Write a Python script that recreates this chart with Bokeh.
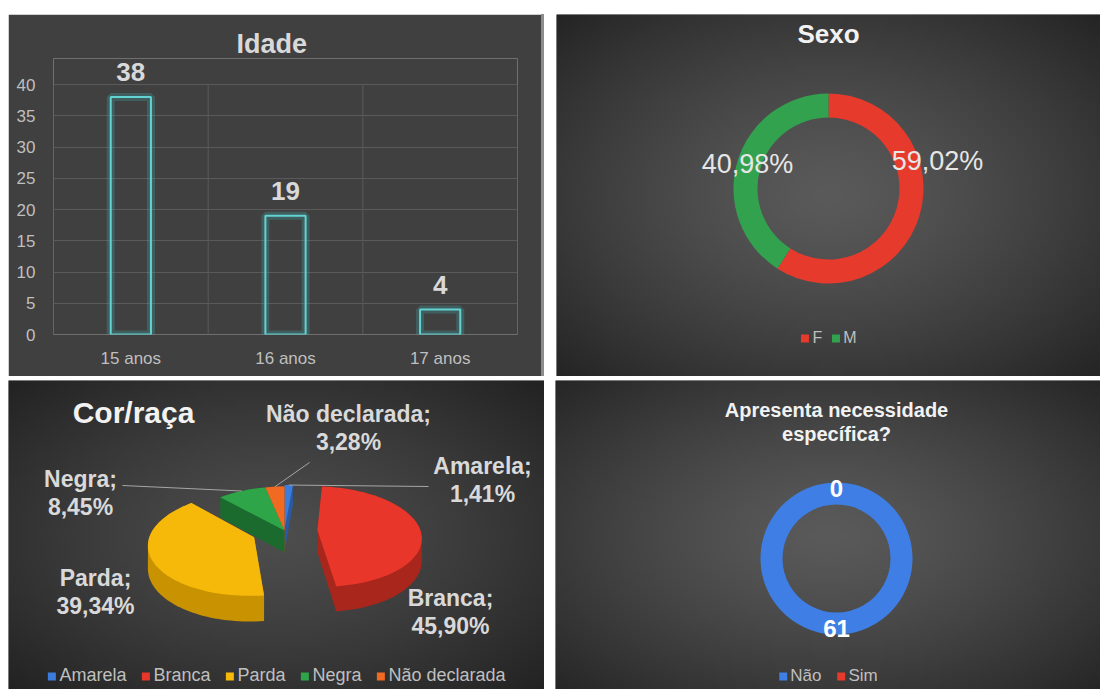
import numpy as np
from bokeh.plotting import figure
from bokeh.models import (Range1d, FactorRange, FixedTicker, Label, Legend,
                          LegendItem, ColumnDataSource, Spacer)
from bokeh.layouts import column, row
from bokeh.core.properties import value
from bokeh.embed import file_html
from bokeh.resources import INLINE

FONT = "Liberation Sans"

# ---------------- data ----------------
age_groups = ["15 anos", "16 anos", "17 anos"]
age_counts = [38, 19, 4]
age_ticks = [0, 5, 10, 15, 20, 25, 30, 35, 40]

sex_labels = ["F", "M"]
sex_pct = [59.02, 40.98]

race_labels = ["Amarela", "Branca", "Parda", "Negra", "Não declarada"]
race_pct = [1.41, 45.90, 39.34, 8.45, 3.28]

need_labels = ["Não", "Sim"]
need_counts = [61, 0]

# ---------------- styles ----------------
sex_colors = ["#e63a2c", "#33a24f"]
need_colors = ["#3f7fe5", "#e63a2c"]
race_top = ["#3b7ddd", "#e8372a", "#f6b90a", "#2fa549", "#f06a22"]
race_side = ["#2a5aa5", "#a8261c", "#c99200", "#1c6b2e", "#b04d16"]
race_explode = [0.04, 0.32, 0.32, 0.0, 0.0]
# label anchor offsets (px, relative to chart centre, y up)
sex_label_off = [(109, 28), (-81, 25)]
race_label_off = [(198, 65), (166, -67), (-189, -47), (-204, 52), (64, 117)]
race_leader_from = {0: (144, 44), 3: (-162, 45), 4: (25, 68)}


def fmt_pct(v):
    return f"{v:.2f}".replace(".", ",") + "%"


def radial_bg(w, h, inner, outer, power=1.3, step=4):
    ws, hs = max(2, w // step), max(2, h // step)
    yy, xx = np.mgrid[0:hs, 0:ws]
    dx = (xx + 0.5 - ws / 2) / (ws / 2)
    dy = (yy + 0.5 - hs / 2) / (hs / 2)
    t = np.clip(np.sqrt(dx ** 2 + dy ** 2) / np.sqrt(2), 0, 1) ** power
    inner = np.array(inner, float)
    outer = np.array(outer, float)
    rgb = inner + (outer - inner) * t[..., None]
    img = np.empty((hs, ws), dtype=np.uint32)
    v = img.view(dtype=np.uint8).reshape((hs, ws, 4))
    v[..., :3] = rgb.astype(np.uint8)
    v[..., 3] = 255
    return img


def blank_fig(w, h, cx, cy, bg):
    p = figure(width=w, height=h, x_range=Range1d(-cx, w - cx),
               y_range=Range1d(cy - h, cy), output_backend="svg",
               toolbar_location=None, min_border=0,
               x_axis_location=None, y_axis_location=None,
               outline_line_color=None, background_fill_color="#333333",
               border_fill_color="#333333")
    p.grid.visible = False
    p.image_rgba(image=[radial_bg(w, h, bg[0], bg[1])], x=-cx, y=cy - h,
                 dw=w, dh=h)
    return p


def add_label(p, x, y, text, size, color, bold=True):
    p.add_layout(Label(x=x, y=y, text=text, text_align="center",
                       text_baseline="middle", text_font=FONT,
                       text_font_size=size, text_color=color,
                       text_font_style="bold" if bold else "normal"))


def add_legend(p, items, margin, size="17px", spacing=10):
    lg = Legend(items=items, orientation="horizontal",
                location="bottom_center", margin=margin, padding=0,
                spacing=spacing, label_standoff=3, glyph_width=10,
                glyph_height=10, label_height=14, label_width=0,
                label_text_font=FONT, label_text_font_size=size,
                label_text_color="#bfbfbf", background_fill_alpha=0,
                border_line_alpha=0)
    p.add_layout(lg, "center")


def wedge_angles(vals):
    frac = np.array(vals, float) / np.sum(vals)
    before = np.concatenate([[0.0], np.cumsum(frac)[:-1]])
    span = np.clip(frac * 2 * np.pi, 1e-6, 2 * np.pi - 1e-4)
    start = np.pi / 2 - before * 2 * np.pi
    end = start - span
    return start, end, start - frac * np.pi


# ---------------- panel 1: Idade ----------------
p1 = figure(width=533, height=362, x_range=FactorRange(*age_groups),
            y_range=Range1d(0, 44.16), output_backend="svg",
            toolbar_location=None, min_border_left=45, min_border_right=24,
            min_border_top=44, min_border_bottom=42,
            background_fill_color="#404040", border_fill_color="#404040",
            outline_line_color=None)
p1.title.text = "Idade"
p1.title.align = "left"
p1.title.offset = 183
p1.title.text_font = FONT
p1.title.text_font_size = "27px"
p1.title.text_font_style = "bold"
p1.title.text_color = "#d9d9d9"
p1.title.standoff = 0
p1.xgrid.grid_line_color = None
p1.ygrid.ticker = FixedTicker(ticks=age_ticks)
p1.ygrid.grid_line_color = "#5a5a5a"
bounds = list(range(len(age_groups) + 1))
p1.segment(x0=bounds, y0=[age_ticks[0]] * len(bounds), x1=bounds,
           y1=[age_ticks[-1]] * len(bounds), line_color="#5a5a5a",
           line_width=1)
p1.vbar(x=age_groups, top=age_counts, width=0.26, fill_alpha=0,
        line_color="#3fb8b8", line_width=8, line_alpha=0.25)
p1.vbar(x=age_groups, top=age_counts, width=0.26, fill_alpha=0,
        line_color="#62d2d2", line_width=2)
p1.text(x=age_groups, y=age_counts, text=[str(v) for v in age_counts],
        text_align="center", text_baseline="bottom", y_offset=-16,
        text_font=value(FONT), text_font_style="bold",
        text_font_size="26px", text_color="#d9d9d9")
p1.yaxis.ticker = FixedTicker(ticks=age_ticks)
for ax in p1.axis:
    ax.axis_line_color = None
    ax.major_tick_line_color = None
    ax.minor_tick_line_color = None
    ax.major_label_text_font = FONT
    ax.major_label_text_font_size = "17px"
    ax.major_label_text_color = "#bfbfbf"
    ax.major_label_standoff = 8
p1.yaxis.major_label_standoff = 12

# ---------------- panel 2: Sexo ----------------
W2, H2, CX2, CY2 = 544, 362, 272, 174
p2 = blank_fig(W2, H2, CX2, CY2, ((0x5a, 0x5a, 0x5a), (0x24, 0x24, 0x24)))
s_start, s_end, s_mid = wedge_angles(sex_pct)
src2 = ColumnDataSource(dict(start=s_start, end=s_end, color=sex_colors,
                             label=sex_labels))
r2 = p2.annular_wedge(x=0, y=0, inner_radius=71, outer_radius=95,
                      start_angle="start", end_angle="end",
                      direction="clock", fill_color="color",
                      line_color=None, source=src2)
add_label(p2, 0, CY2 - 19, "Sexo", "26px", "#f2f2f2")
for (dx, dy), v in zip(sex_label_off, sex_pct):
    add_label(p2, dx, dy, fmt_pct(v), "27px", "#e6e6e6", bold=False)
add_legend(p2, [LegendItem(label=l, renderers=[r2], index=i)
                for i, l in enumerate(sex_labels)], margin=29, size="16px",
           spacing=8)

# ---------------- panel 3: Cor/raça (3D exploded pie) ----------------
W3, H3, CX3, CY3 = 536, 309, 276, 150
p3 = blank_fig(W3, H3, CX3, CY3, ((0x4d, 0x4d, 0x4d), (0x22, 0x22, 0x22)))
R3, TILT, DEPTH, PERSP = 103.0, 0.48, 22.0, 8.0
r_frac = np.array(race_pct) / np.sum(race_pct)
r_start = np.concatenate([[0.0], np.cumsum(r_frac)[:-1]]) * 2 * np.pi
r_end = r_start + r_frac * 2 * np.pi
r_mid = 0.5 * (r_start + r_end)


def proj(X, Z, h):
    s = PERSP / (PERSP + Z)
    return R3 * X * s, R3 * TILT * Z * s - h * s


def convex_hull(xs, ys):
    pts = sorted(set(zip(np.round(xs, 3).tolist(), np.round(ys, 3).tolist())))

    def cross(o, a, b):
        return (a[0] - o[0]) * (b[1] - o[1]) - (a[1] - o[1]) * (b[0] - o[0])
    lower, upper = [], []
    for p in pts:
        while len(lower) >= 2 and cross(lower[-2], lower[-1], p) <= 0:
            lower.pop()
        lower.append(p)
    for p in reversed(pts):
        while len(upper) >= 2 and cross(upper[-2], upper[-1], p) <= 0:
            upper.pop()
        upper.append(p)
    h = lower[:-1] + upper[:-1]
    return [float(p[0]) for p in h], [float(p[1]) for p in h]


top_xs, top_ys, sides, rims = [], [], [], []
for i in range(len(race_pct)):
    ex = race_explode[i] * np.sin(r_mid[i])
    ez = race_explode[i] * np.cos(r_mid[i])
    n = max(3, int(np.degrees(r_end[i] - r_start[i]) / 2) + 2)
    t = np.linspace(r_start[i], r_end[i], n)
    X = np.concatenate([[ex], ex + np.sin(t)])
    Z = np.concatenate([[ez], ez + np.cos(t)])
    tx, ty = proj(X, Z, 0.0)
    bx, by = proj(X, Z, DEPTH)
    hx, hy = convex_hull(np.concatenate([tx, bx]), np.concatenate([ty, by]))
    top_xs.append([float(v) for v in tx])
    top_ys.append([float(v) for v in ty])
    sides.append((ez + 0.5 * np.cos(r_mid[i]), hx, hy, race_side[i]))
    rims.append(proj(ex + np.sin(r_mid[i]), ez + np.cos(r_mid[i]), 0.0))

sides.sort(key=lambda s: -s[0])
p3.patches(xs=[s[1] for s in sides], ys=[s[2] for s in sides],
           fill_color=[s[3] for s in sides], line_color=None)
src3 = ColumnDataSource(dict(xs=top_xs, ys=top_ys, color=race_top,
                             label=race_labels))
r3 = p3.patches(xs="xs", ys="ys", fill_color="color", line_color=None,
                source=src3)
for i, (fx, fy) in race_leader_from.items():
    p3.line(x=[fx, float(rims[i][0])], y=[fy, float(rims[i][1])],
            line_color="#a6a6a6", line_width=1)
add_label(p3, -151, 118, "Cor/raça", "30px", "#f2f2f2")
for (dx, dy), name, v in zip(race_label_off, race_labels, race_pct):
    add_label(p3, dx, dy, name + ";", "23px", "#d9d9d9")
    add_label(p3, dx, dy - 28, fmt_pct(v), "23px", "#d9d9d9")
add_legend(p3, [LegendItem(label=l, renderers=[r3], index=i)
                for i, l in enumerate(race_labels)], margin=3, size="18px",
           spacing=14)

# ---------------- panel 4: necessidade específica ----------------
W4, H4, CX4, CY4 = 545, 309, 281, 178
p4 = blank_fig(W4, H4, CX4, CY4, ((0x5a, 0x5a, 0x5a), (0x26, 0x26, 0x26)))
n_start, n_end, n_mid = wedge_angles(need_counts)
src4 = ColumnDataSource(dict(start=n_start, end=n_end, color=need_colors,
                             label=need_labels))
r4 = p4.annular_wedge(x=0, y=0, inner_radius=54, outer_radius=76,
                      start_angle="start", end_angle="end",
                      direction="clock", fill_color="color",
                      line_color=None, source=src4)
add_label(p4, 0, CY4 - 29, "Apresenta necessidade", "20px", "#f2f2f2")
add_label(p4, 0, CY4 - 53, "específica?", "20px", "#f2f2f2")
for m, v in zip(n_mid, need_counts):
    add_label(p4, 70 * np.cos(m), 70 * np.sin(m), str(v), "24px", "#ffffff")
add_legend(p4, [LegendItem(label=l, renderers=[r4], index=i)
                for i, l in enumerate(need_labels)], margin=3, size="17px",
           spacing=14)

layout = column(
    Spacer(width=10, height=14),
    row(Spacer(width=8, height=362), column(p1),
        Spacer(width=3, height=362, styles={"background-color": "#8c8c8c"}),
        Spacer(width=12, height=362), column(p2)),
    Spacer(width=10, height=4),
    row(Spacer(width=8, height=309), column(p3),
        Spacer(width=11, height=309), column(p4)),
)

open("out.html", "w").write(file_html(layout, INLINE))
